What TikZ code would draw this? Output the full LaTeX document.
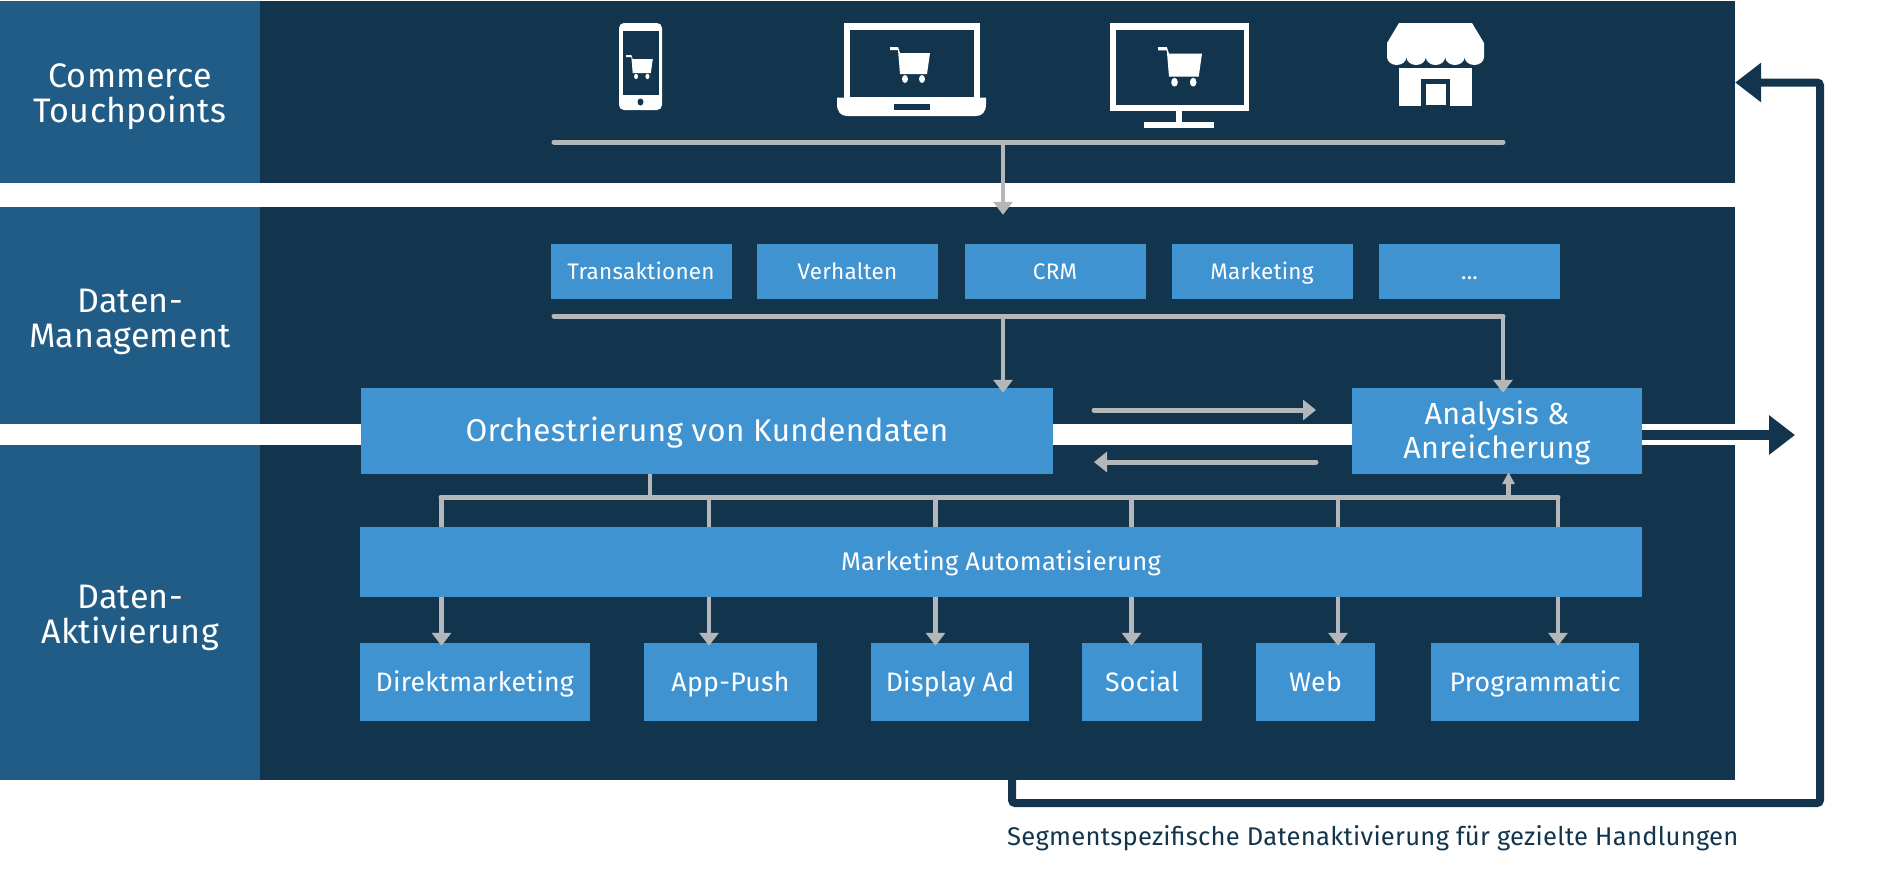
\documentclass[tikz,border=0pt]{standalone}
\usepackage{fontspec}
\setmainfont{Fira Sans}[LetterSpace=1]
\usetikzlibrary{arrows.meta}
\definecolor{bandcolor}{HTML}{12354D}
\definecolor{sidecolor}{HTML}{205C85}
\definecolor{boxcolor}{HTML}{3E93D0}
\definecolor{linecolor}{HTML}{B4B7BA}
\newcommand{\fsz}[1]{\fontsize{#1}{#1}\selectfont}
\newcommand{\sidetop}{\rule{0pt}{34pt}}
\newcommand{\cartglyph}[4]{%
  \begin{scope}[shift={(#1,#2)},scale=#3]
    \fill[#4] (0,0) -- (8,0) -- (10,6) -- (40,6) -- (37,27) -- (10,27) -- (8,3) -- (0,3) -- cycle;
    \fill[#4] (15,32) ellipse [x radius=3,y radius=4];
    \fill[#4] (32,32) ellipse [x radius=3,y radius=4];
  \end{scope}}
\tikzset{
  band/.style={fill=bandcolor,inner sep=0pt,minimum height=#1},
  sidebox/.style={fill=sidecolor,text=white,inner sep=0pt,align=center,minimum width=260pt,minimum height=#1,font=\fsz{34}},
  bluebox/.style={fill=boxcolor,text=white,inner sep=0pt,align=center},
  oneline/.style={text height=#1,text depth=0pt},
  busline/.style={draw=linecolor,line width=5pt,line cap=round},
  dropline/.style={draw=linecolor,line width=4.5pt},
  droparrow/.style={dropline,-{Triangle[width=19pt,length=13pt]}},
  syncarrow/.style={busline,-{Triangle[width=20pt,length=13pt]}}
}
\begin{document}
\begin{tikzpicture}[x=1pt,y=-1pt]
  \useasboundingbox (0,0) rectangle (1885,879);
  % bands
  \node[band=181.5pt,minimum width=1475pt] (touchband) at (997.5,91.75) {};
  \node[band=217pt,minimum width=1475pt] (databand) at (997.5,315.5) {};
  \node[band=335pt,minimum width=1475pt] (activeband) at (997.5,612.5) {};
  \node[sidebox=181.5pt] (touchside) at (130,91.75) {\sidetop Commerce\\[1pt]Touchpoints};
  \node[sidebox=217pt] (dataside) at (130,315.5) {\rule{0pt}{35.5pt}Daten-\\[1pt]Management};
  \node[sidebox=335pt] (activeside) at (130,612.5) {\sidetop Daten-\\[1pt]Aktivierung};

  % phone
  \fill[white,rounded corners=5pt] (619,23) rectangle (662,110);
  \fill[bandcolor] (623,31) rectangle (659,95);
  \fill[bandcolor] (640.5,102) ellipse [x radius=3,y radius=3.5];
  \cartglyph{626}{55}{0.67}{white}
  % laptop
  \fill[white] (844,23) rectangle (980,98);
  \fill[bandcolor] (850,30) rectangle (974,97);
  \fill[white] (837,97.5) -- (986,97.5) -- (986,104) .. controls (986,112) and (982,116) .. (976,116)
    -- (847,116) .. controls (841,116) and (837,112) .. (837,104) -- cycle;
  \fill[bandcolor] (894,104) rectangle (930,110);
  \cartglyph{890}{47}{1}{white}
  % monitor
  \fill[white] (1110,23) rectangle (1249,111);
  \fill[bandcolor] (1116,30) rectangle (1244,105);
  \fill[white] (1176,111) rectangle (1182,122);
  \fill[white] (1144,122) rectangle (1214,128);
  \cartglyph{1158}{47}{1.1}{white}
  % store
  \fill[white] (1399,23) -- (1472,23) -- (1484,43) -- (1484,57)
    arc[start angle=0,end angle=180,x radius=9.7,y radius=8]
    arc[start angle=0,end angle=180,x radius=9.7,y radius=8]
    arc[start angle=0,end angle=180,x radius=9.7,y radius=8]
    arc[start angle=0,end angle=180,x radius=9.7,y radius=8]
    arc[start angle=0,end angle=180,x radius=9.7,y radius=8]
    -- (1387,43) -- cycle;
  \fill[white] (1399,68) rectangle (1472,106);
  \fill[bandcolor] (1421,79) rectangle (1450,106);
  \fill[white] (1426,84) rectangle (1446,105);

  % source boxes
  \foreach \x/\nm/\txt in {641/transaktionen/Transaktionen,847.5/verhalten/Verhalten,1055/crm/CRM,1262/marketing/Marketing,1469.5/more/{...}}
    \node[bluebox,oneline=15.7pt,minimum width=181pt,minimum height=55pt,font=\fsz{22.5}] (\nm) at (\x,271.5) {\txt};
  \node[bluebox,oneline=21.7pt,minimum width=692pt,minimum height=86pt,font=\fsz{31.5}] (orch) at (707,431) {Orchestrierung von Kundendaten};
  \node[bluebox,minimum width=290pt,minimum height=86pt,font=\fsz{30.5}] (analysis) at (1497,431) {\rule{0pt}{28pt}Analysis \&\\[3.5pt]Anreicherung};
  \node[bluebox,oneline=17.6pt,minimum width=1282pt,minimum height=70pt,font=\fsz{25.6}] (automation) at (1001,562) {Marketing Automatisierung};
  \foreach \x/\w/\nm/\txt in {474.75/229.5/direkt/Direktmarketing,730.5/173/apppush/App-Push,950/158/displayad/Display Ad,1142/120/social/Social,1315.5/119/web/Web,1535/208/programmatic/Programmatic}
    \node[bluebox,oneline=18.4pt,minimum width=\w pt,minimum height=78pt,font=\fsz{26.7}] (\nm) at (\x,682) {\txt};

  % touchpoint bus
  \coordinate (touchleft) at (554,142);
  \coordinate (touchright) at (1503,142);
  \coordinate (touchdrop) at (1003,142);
  \draw[busline] (touchleft) -- (touchright);
  \draw[droparrow,shorten >=-8pt] (touchdrop) -- (touchdrop |- databand.north);
  % source bus
  \coordinate (sourceleft) at (554,316);
  \coordinate (sourceright) at (1503,316);
  \coordinate (sourcedrop) at (1003,316);
  \draw[busline] (sourceleft) -- (sourceright);
  \draw[droparrow,shorten >=-5pt] (sourcedrop) -- (sourcedrop |- orch.north);
  \draw[droparrow,shorten >=-5pt] (sourceright) -- (sourceright |- analysis.north);
  % sync arrows
  \coordinate (syncupleft) at (1094,410);
  \coordinate (syncupright) at (1316,410);
  \coordinate (syncdownright) at (1316,462);
  \coordinate (syncdownleft) at (1094,462);
  \draw[syncarrow] (syncupleft) -- (syncupright);
  \draw[syncarrow] (syncdownright) -- (syncdownleft);
  % automation bus
  \coordinate (autoleft) at (441,497);
  \coordinate (autoright) at (1558,497);
  \coordinate (autoup) at (1508.5,497);
  \coordinate (autostub) at (650,497);
  \draw[busline] (autoleft) -- (autoright);
  \draw[dropline] (autostub |- orch.south) -- (autostub);
  \draw[dropline,-{Triangle[width=12pt,length=12pt]},shorten >=-2pt] (autoup) -- (autoup |- analysis.south);
  \foreach \x/\nm in {441.5/direkt,709/apppush,935.5/displayad,1131.5/social,1338/web,1558/programmatic}{
    \coordinate (bus\nm) at (\x,497);
    \draw[dropline] (bus\nm) -- (bus\nm |- automation.north);
    \draw[droparrow,shorten >=-3pt] (bus\nm |- automation.south) -- (bus\nm |- \nm.north);
  }
  % result arrow
  \coordinate (outtip) at (1795,435);
  \draw[line width=10pt,bandcolor,-{Triangle[width=38pt,length=26pt]}] (outtip -| analysis.east) -- (outtip);
  % feedback
  \coordinate (fbbottom) at (1012,803);
  \coordinate (fbright) at (1820,803);
  \coordinate (fbtop) at (1820,82.5);
  \draw[line width=8pt,bandcolor,rounded corners=3pt,-{Triangle[width=38pt,length=26pt]}]
    (fbbottom |- activeband.south) -- (fbbottom) -- (fbright) -- (fbtop) -- (fbtop -| touchband.east);
  \node[text=bandcolor,font=\fsz{25.6},anchor=base west,inner sep=0pt] (fbcaption) at (1007,845) {Segmentspezifische Datenaktivierung für gezielte Handlungen};
\end{tikzpicture}
\end{document}
